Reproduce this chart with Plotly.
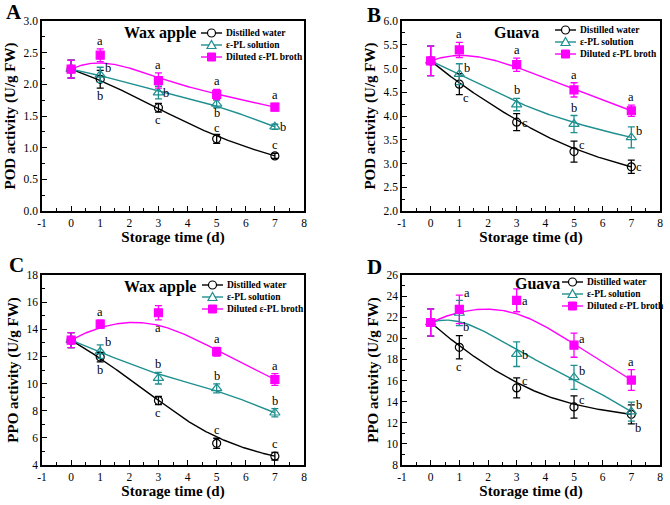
import numpy as np
import plotly.graph_objects as go

# ---------------- data ----------------
days = [0, 1, 3, 5, 7]
series_names = ["Distilled water", "ε-PL solution", "Diluted ε-PL broth"]

A_water = [2.24, 2.08, 1.63, 1.14, 0.87]
A_water_err = [0.14, 0.14, 0.07, 0.07, 0.04]
A_pl = [2.24, 2.15, 1.87, 1.69, 1.33]
A_pl_err = [0.14, 0.12, 0.10, 0.06, 0.04]
A_broth = [2.24, 2.46, 2.06, 1.84, 1.64]
A_broth_err = [0.14, 0.10, 0.12, 0.08, 0.06]

B_water = [5.16, 4.67, 3.87, 3.25, 2.93]
B_water_err = [0.31, 0.22, 0.18, 0.22, 0.14]
B_pl = [5.16, 4.88, 4.24, 3.83, 3.55]
B_pl_err = [0.31, 0.22, 0.13, 0.18, 0.22]
B_broth = [5.16, 5.39, 5.08, 4.55, 4.11]
B_broth_err = [0.31, 0.16, 0.14, 0.15, 0.12]

C_water = [13.2, 11.95, 8.75, 5.6, 4.65]
C_water_err = [0.55, 0.35, 0.30, 0.37, 0.28]
C_pl = [13.2, 12.35, 10.4, 9.65, 7.85]
C_pl_err = [0.55, 0.50, 0.43, 0.33, 0.30]
C_broth = [13.2, 14.38, 15.22, 12.35, 10.3]
C_broth_err = [0.55, 0.30, 0.52, 0.32, 0.43]

D_water = [21.5, 19.15, 15.3, 13.5, 12.8]
D_water_err = [1.3, 1.10, 0.95, 1.05, 0.90]
D_pl = [21.5, 22.4, 18.5, 16.3, 13.05]
D_pl_err = [1.3, 1.20, 1.17, 1.14, 0.90]
D_broth = [21.5, 22.75, 23.6, 19.35, 16.05]
D_broth_err = [1.3, 1.35, 1.08, 1.14, 0.98]

A_letters = [[None, "b", "c", "c", "c"], [None, "b", "b", "b", "b"], [None, "a", "a", "a", "a"]]
B_letters = [[None, "c", "c", "c", "c"], [None, "b", "b", "b", "b"], [None, "a", "a", "a", "a"]]
C_letters = [[None, "b", "c", "c", "c"], [None, "b", "b", "b", "b"], [None, "a", "a", "a", "a"]]
D_letters = [[None, "c", "c", "c", "b"], [None, "b", "b", "b", "b"], [None, "a", "a", "a", "a"]]

x_ticks = [-1, 0, 1, 2, 3, 4, 5, 6, 7, 8]

# ---------------- styles ----------------
COLORS = ["#000000", "#1f8f8f", "#ff00ff"]
SYMBOLS = ["circle-open", "triangle-up-open", "square"]
MSIZE = [8, 9, 8]
FONT = "Liberation Serif"

# label placement codes (style): up, upt, dn, dnt, r, ru, rd, rt
A_place = [[None, "dn", "dn", "upt", "up"], [None, "ru", "r", "dnt", "r"], [None, "up", "up", "up", "up"]]
B_place = [[None, "rd", "r", "ru", "r"], [None, "ru", "up", "up", "ru"], [None, "up", "up", "up", "up"]]
C_place = [[None, "dn", "dn", "up", "up"], [None, "rt", "up", "up", "up"], [None, "up", "dn", "up", "up"]]
D_place = [[None, "dn", "ru", "ru", "rd"], [None, "rd", "r", "ru", "ru"], [None, "rt", "r", "ru", "up"]]

W, H = 670, 505
# panel boxes in pixels: left, right, top, bottom
boxes = {
    "A": (42, 304, 21, 211),
    "B": (402, 660, 21, 211),
    "C": (42, 304, 275, 465),
    "D": (402, 660, 275, 465),
}


def bspline(xs, ys, n=300, k=3):
    P = np.column_stack([xs, ys]).astype(float)
    m = len(P)
    inner = np.linspace(0, 1, m - k + 1)
    knots = np.concatenate([[0.0] * k, inner, [1.0] * k])
    t = np.linspace(0, 1, n)
    t[-1] -= 1e-9
    B = np.zeros((n, len(knots) - 1))
    for i in range(len(knots) - 1):
        B[:, i] = ((knots[i] <= t) & (t < knots[i + 1])).astype(float)
    for p in range(1, k + 1):
        Bn = np.zeros((n, len(knots) - 1 - p))
        for i in range(len(knots) - 1 - p):
            d1 = knots[i + p] - knots[i]
            d2 = knots[i + p + 1] - knots[i + 1]
            term = np.zeros(n)
            if d1 > 0:
                term += (t - knots[i]) / d1 * B[:, i]
            if d2 > 0:
                term += (knots[i + p + 1] - t) / d2 * B[:, i + 1]
            Bn[:, i] = term
        B = Bn
    C = B @ P
    return C[:, 0], C[:, 1]


panels = [
    ("A", "POD activity (U/g FW)", "Wax apple", [0, 3], 0.5, 0.25, ".1f",
     [(A_water, A_water_err), (A_pl, A_pl_err), (A_broth, A_broth_err)], A_letters, A_place),
    ("B", "POD activity (U/g FW)", "Guava", [2, 6], 0.5, 0.25, ".1f",
     [(B_water, B_water_err), (B_pl, B_pl_err), (B_broth, B_broth_err)], B_letters, B_place),
    ("C", "PPO activity (U/g FW)", "Wax apple", [4, 18], 2, 1, "d",
     [(C_water, C_water_err), (C_pl, C_pl_err), (C_broth, C_broth_err)], C_letters, C_place),
    ("D", "PPO activity (U/g FW)", "Guava", [8, 26], 2, 1, "d",
     [(D_water, D_water_err), (D_pl, D_pl_err), (D_broth, D_broth_err)], D_letters, D_place),
]

# legend / title pixel positions (style)
legend_pos = {  # glyph start x, row center ys
    "A": (201, [33, 45, 57]),
    "B": (555, [30, 42, 54]),
    "C": (202, [285, 297, 309]),
    "D": (562, [282, 294, 306]),
}
title_pos = {"A": (160, 33), "B": (516, 32), "C": (160, 287), "D": (537, 283)}
letter_pos = {"A": (14, 12), "B": (374, 15), "C": (16, 265), "D": (375, 267)}

fig = go.Figure()
annotations = []
shapes = []


def px(x):
    return x / W


def py(y):
    return 1 - y / H


for idx, (key, ytitle, ftitle, yrange, dt, mdt, fmt, data, letters, places) in enumerate(panels):
    n = idx + 1
    xa = "x" if n == 1 else f"x{n}"
    ya = "y" if n == 1 else f"y{n}"
    l, r, t, b = boxes[key]
    for s, (vals, errs) in enumerate(data):
        cx, cy = bspline(days, vals)
        fig.add_trace(go.Scatter(x=cx, y=cy, mode="lines", xaxis=xa, yaxis=ya,
                                 line=dict(color=COLORS[s], width=1.4), showlegend=False,
                                 hoverinfo="skip"))
    for s, (vals, errs) in enumerate(data):
        fig.add_trace(go.Scatter(
            x=days, y=vals, mode="markers", xaxis=xa, yaxis=ya, showlegend=False,
            name=series_names[s],
            marker=dict(symbol=SYMBOLS[s], size=MSIZE[s], color=COLORS[s],
                        line=dict(color=COLORS[s], width=1.2)),
            error_y=dict(type="data", array=errs, visible=True, color=COLORS[s],
                         thickness=1.3, width=3.5)))
        for i, lab in enumerate(letters[s]):
            if lab is None:
                continue
            code = places[s][i]
            v, e = vals[i], errs[i]
            ann = dict(text=lab, xref=xa, yref=ya, x=days[i], showarrow=False,
                       height=11, borderpad=0, valign="middle",
                       font=dict(family=FONT, size=12.5, color="black"))
            if code == "up":
                ann.update(y=v + e, yanchor="bottom", xanchor="center", yshift=2)
            elif code == "upt":
                ann.update(y=v + e, yanchor="bottom", xanchor="center", yshift=0)
            elif code == "dn":
                ann.update(y=v - e, yanchor="top", xanchor="center", yshift=-1)
            elif code == "dnt":
                ann.update(y=v - e, yanchor="top", xanchor="center", yshift=2)
            elif code == "r":
                ann.update(y=v, yanchor="middle", xanchor="left", xshift=4)
            elif code == "ru":
                ann.update(y=v, yanchor="middle", xanchor="left", xshift=4, yshift=7)
            elif code == "rd":
                ann.update(y=v, yanchor="middle", xanchor="left", xshift=3, yshift=-13)
            elif code == "rt":
                ann.update(y=v + e, yanchor="middle", xanchor="left", xshift=4, yshift=3)
            annotations.append(ann)

    axis_common = dict(showline=True, linecolor="black", linewidth=1.5, mirror=True,
                       ticks="inside", ticklen=5, tickwidth=1.2, tickcolor="black",
                       showgrid=False, zeroline=False, automargin=False,
                       tickfont=dict(family=FONT, size=11.5, color="black"))
    xaxis = dict(axis_common, domain=[px(l), px(r)], range=[-1, 8], tickmode="array",
                 tickvals=x_ticks, ticktext=[str(v) for v in x_ticks],
                 minor=dict(ticks="inside", ticklen=3, dtick=0.5, tick0=-1, tickcolor="black",
                            tickwidth=1.2, showgrid=False),
                 title=dict(text="<b>Storage time (d)</b>", standoff=3,
                            font=dict(family=FONT, size=15, color="black")),
                 anchor=ya)
    yaxis = dict(axis_common, domain=[py(b), py(t)], range=yrange, dtick=dt, tick0=yrange[0],
                 tickformat=fmt,
                 minor=dict(ticks="inside", ticklen=3, dtick=mdt, tick0=yrange[0], tickcolor="black",
                            tickwidth=1.2, showgrid=False),
                 title=dict(text=f"<b>{ytitle}</b>", standoff=4,
                            font=dict(family=FONT, size=15, color="black")),
                 anchor=xa)
    fig.update_layout(**{("xaxis" if n == 1 else f"xaxis{n}"): xaxis,
                         ("yaxis" if n == 1 else f"yaxis{n}"): yaxis})

    # panel letter
    lx, ly = letter_pos[key]
    annotations.append(dict(text=f"<b>{key}</b>", xref="paper", yref="paper", x=px(lx), y=py(ly),
                            xanchor="center", yanchor="middle", showarrow=False,
                            font=dict(family=FONT, size=21, color="black")))
    # fruit title
    tx, ty = title_pos[key]
    annotations.append(dict(text=f"<b>{ftitle}</b>", xref="paper", yref="paper", x=px(tx), y=py(ty),
                            xanchor="center", yanchor="middle", showarrow=False,
                            font=dict(family=FONT, size=16, color="black")))
    # legend
    gx, rows = legend_pos[key]
    for s in range(3):
        yy = rows[s]
        shapes.append(dict(type="line", xref="paper", yref="paper", x0=px(gx), x1=px(gx + 21),
                           y0=py(yy), y1=py(yy), line=dict(color=COLORS[s], width=1.4)))
        cxm = gx + 10.5
        if s == 0:
            shapes.append(dict(type="circle", xref="paper", yref="paper",
                               x0=px(cxm - 4), x1=px(cxm + 4), y0=py(yy + 4), y1=py(yy - 4),
                               line=dict(color=COLORS[s], width=1.2), fillcolor="white"))
        elif s == 1:
            path = (f"M {px(cxm - 4.5)} {py(yy + 3.5)} L {px(cxm + 4.5)} {py(yy + 3.5)} "
                    f"L {px(cxm)} {py(yy - 4.5)} Z")
            shapes.append(dict(type="path", xref="paper", yref="paper", path=path,
                               line=dict(color=COLORS[s], width=1.2), fillcolor="white"))
        else:
            shapes.append(dict(type="rect", xref="paper", yref="paper",
                               x0=px(cxm - 4), x1=px(cxm + 4), y0=py(yy + 4), y1=py(yy - 4),
                               line=dict(color=COLORS[s], width=1), fillcolor=COLORS[s]))
        annotations.append(dict(text=f"<b>{series_names[s]}</b>", xref="paper", yref="paper",
                                x=px(gx + 23), y=py(yy), xanchor="left", yanchor="middle",
                                showarrow=False,
                                font=dict(family=FONT, size=9.5, color="black")))

fig.update_layout(width=W, height=H, margin=dict(l=0, r=0, t=0, b=0),
                  paper_bgcolor="white", plot_bgcolor="white",
                  showlegend=False, annotations=annotations, shapes=shapes,
                  font=dict(family=FONT))

fig.write_html("out.html", config={"displayModeBar": False},
               post_script="document.body.style.margin='0';document.body.style.overflow='hidden';")
